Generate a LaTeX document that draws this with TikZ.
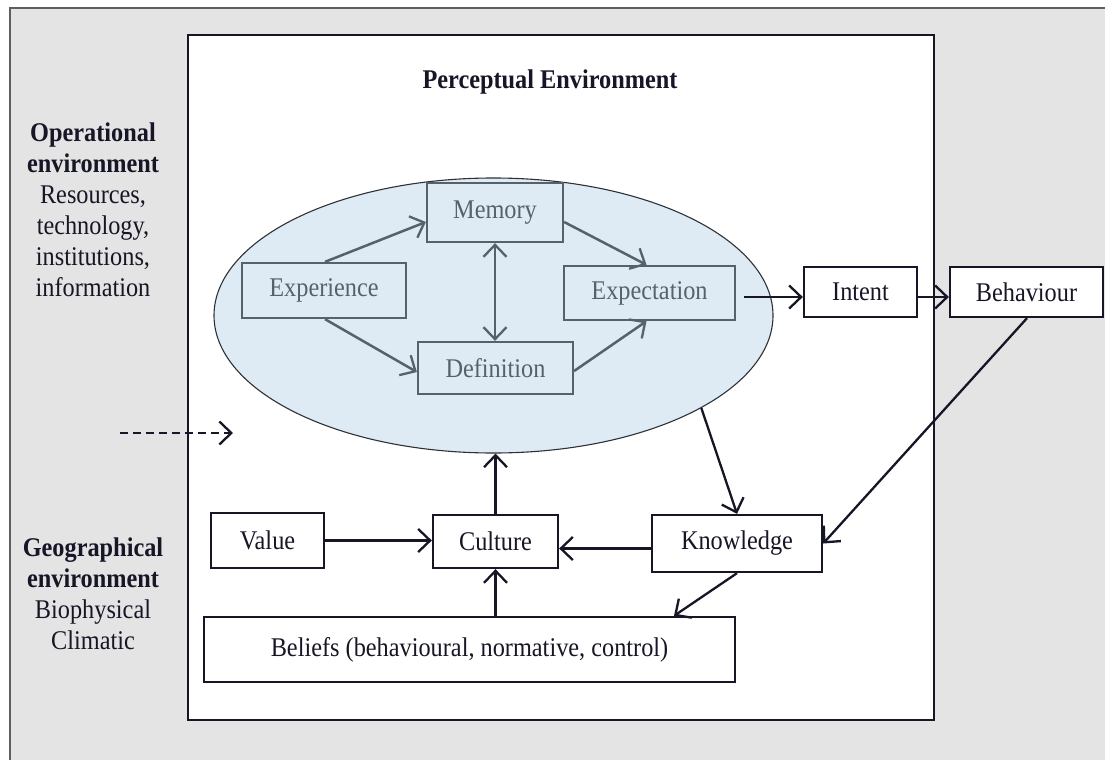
\documentclass[tikz,border=0pt]{standalone}
\usepackage{fontspec}
\setmainfont{Liberation Serif}[FakeStretch=0.9]
\usetikzlibrary{arrows.meta,shapes.geometric,calc}

\definecolor{pagegray}{HTML}{E4E4E4}
\definecolor{framegray}{HTML}{5E5E5E}
\definecolor{cloud}{HTML}{DEEAF4}
\definecolor{cloudline}{HTML}{2E3236}
\definecolor{inkgray}{HTML}{56616A}
\definecolor{ink}{HTML}{161626}

\tikzset{
  txt/.style={font=\fontsize{27}{31}\selectfont, text=ink, inner sep=0pt},
  hdr/.style={txt, font=\fontsize{27}{31}\selectfont\bfseries},
  plainbox/.style 2 args={draw=ink, line width=2.3pt, fill=white, text=ink,
    font=\fontsize{27}{31}\selectfont, inner sep=0pt,
    minimum width=#1pt, minimum height=#2pt},
  innerbox/.style 2 args={draw=inkgray, line width=2.3pt, fill=cloud, text=inkgray,
    font=\fontsize{27}{31}\selectfont, inner sep=0pt,
    minimum width=#1pt, minimum height=#2pt},
  barb/.tip={Straight Barb[length=12pt,width=23pt,line width=2.3pt]},
  link/.style={draw=ink, line width=2.3pt, -barb},
  innerlink/.style={draw=inkgray, line width=2.5pt, -barb},
  innerboth/.style={draw=inkgray, line width=2.5pt, barb-barb},
}

\begin{document}
\begin{tikzpicture}[x=1pt,y=-1pt]
  \useasboundingbox (0,0) rectangle (1105,760);

  % outer operational frame (runs off the right and bottom)
  \fill[pagegray] (10,8) rectangle (1105,760);
  \draw[framegray, line width=2.8pt] (10,760) -- (10,8) -- (1105,8);

  % perceptual environment panel
  \draw[ink, line width=2.6pt, fill=white] (188,35) rectangle (934,720);
  \node[hdr] (title) at (550,82) {Perceptual Environment};

  % left-hand labels
  \node[txt, align=center, anchor=north] (oper) at (93,123)
    {\textbf{Operational}\\ \textbf{environment}\\ Resources,\\ technology,\\ institutions,\\ information};
  \node[txt, align=center, anchor=north] (geo) at (93,538)
    {\textbf{Geographical}\\ \textbf{environment}\\ Biophysical\\ Climatic};

  % cognition ellipse
  \node[ellipse, draw=cloudline, line width=1.1pt, fill=cloud, inner sep=0pt,
        minimum width=559pt, minimum height=275pt] (pe) at (493.5,315.5) {};

  \node[innerbox={136}{59}] (mem)   at (495,212.5)  {Memory};
  \node[innerbox={164}{55}] (exper) at (324,290.5)  {Experience};
  \node[innerbox={171}{54}] (expt)  at (649.5,293)  {Expectation};
  \node[innerbox={155}{52}] (defn)  at (495.5,368)  {Definition};

  \draw[innerlink] ($(exper.north)+(1,0)$) -- ($(mem.west)+(0,9.5)$);
  \draw[innerlink] ($(mem.east)+(0,9.5)$) -- ($(expt.north)+(-3,0)$);
  \draw[innerboth] (mem.south) -- (mem.south |- defn.north);
  \draw[innerlink] ($(exper.south)+(1,0)$) -- ($(defn.west)+(0,4)$);
  \draw[innerlink] ($(defn.east)+(0,3)$) -- ($(expt.south)+(-3,0)$);

  % outcome chain
  \node[plainbox={113}{50}] (intent) at (860.5,292) {Intent};
  \node[plainbox={153}{50}] (behav)  at (1026.5,292) {Behaviour};

  \draw[link] ($(expt.east)+(8,4)$) -- ($(intent.west)+(0,5)$);
  \draw[link] ($(intent.east)+(0,5)$) -- ($(behav.west)+(0,5)$);

  % lower row
  \node[plainbox={113}{55}] (val)   at (267.5,540.5) {Value};
  \node[plainbox={125}{53}] (cul)   at (495.5,541.5) {Culture};
  \node[plainbox={170}{57}] (know)  at (737,543.5)   {Knowledge};
  \node[plainbox={531}{65}] (bel)   at (469.5,649.5) {Beliefs (behavioural, normative, control)};

  \coordinate (kw) at ($(know.west)+(0,5)$);
  \coordinate (bk) at ($(bel.north)+(204.5,0)$);

  \draw[link] (val.east) -- (val.east -| cul.west);
  \draw[link] (kw) -- (kw -| cul.east);
  \draw[link] (bel.north -| cul.south) -- (cul.south);
  \draw[link] (cul.north) -- (cul.north |- pe.south);
  \draw[link] (pe.-24) -- (know.north);
  \draw[link] (know.south) -- (bk);
  \draw[link] ($(behav.south)+(0.5,0)$) -- (know.east);

  % external influence
  \coordinate (d0) at (120,433);
  \coordinate (d1) at (233,433);
  \draw[link, dash pattern=on 8pt off 5pt] (d0) -- (d1);
\end{tikzpicture}
\end{document}
